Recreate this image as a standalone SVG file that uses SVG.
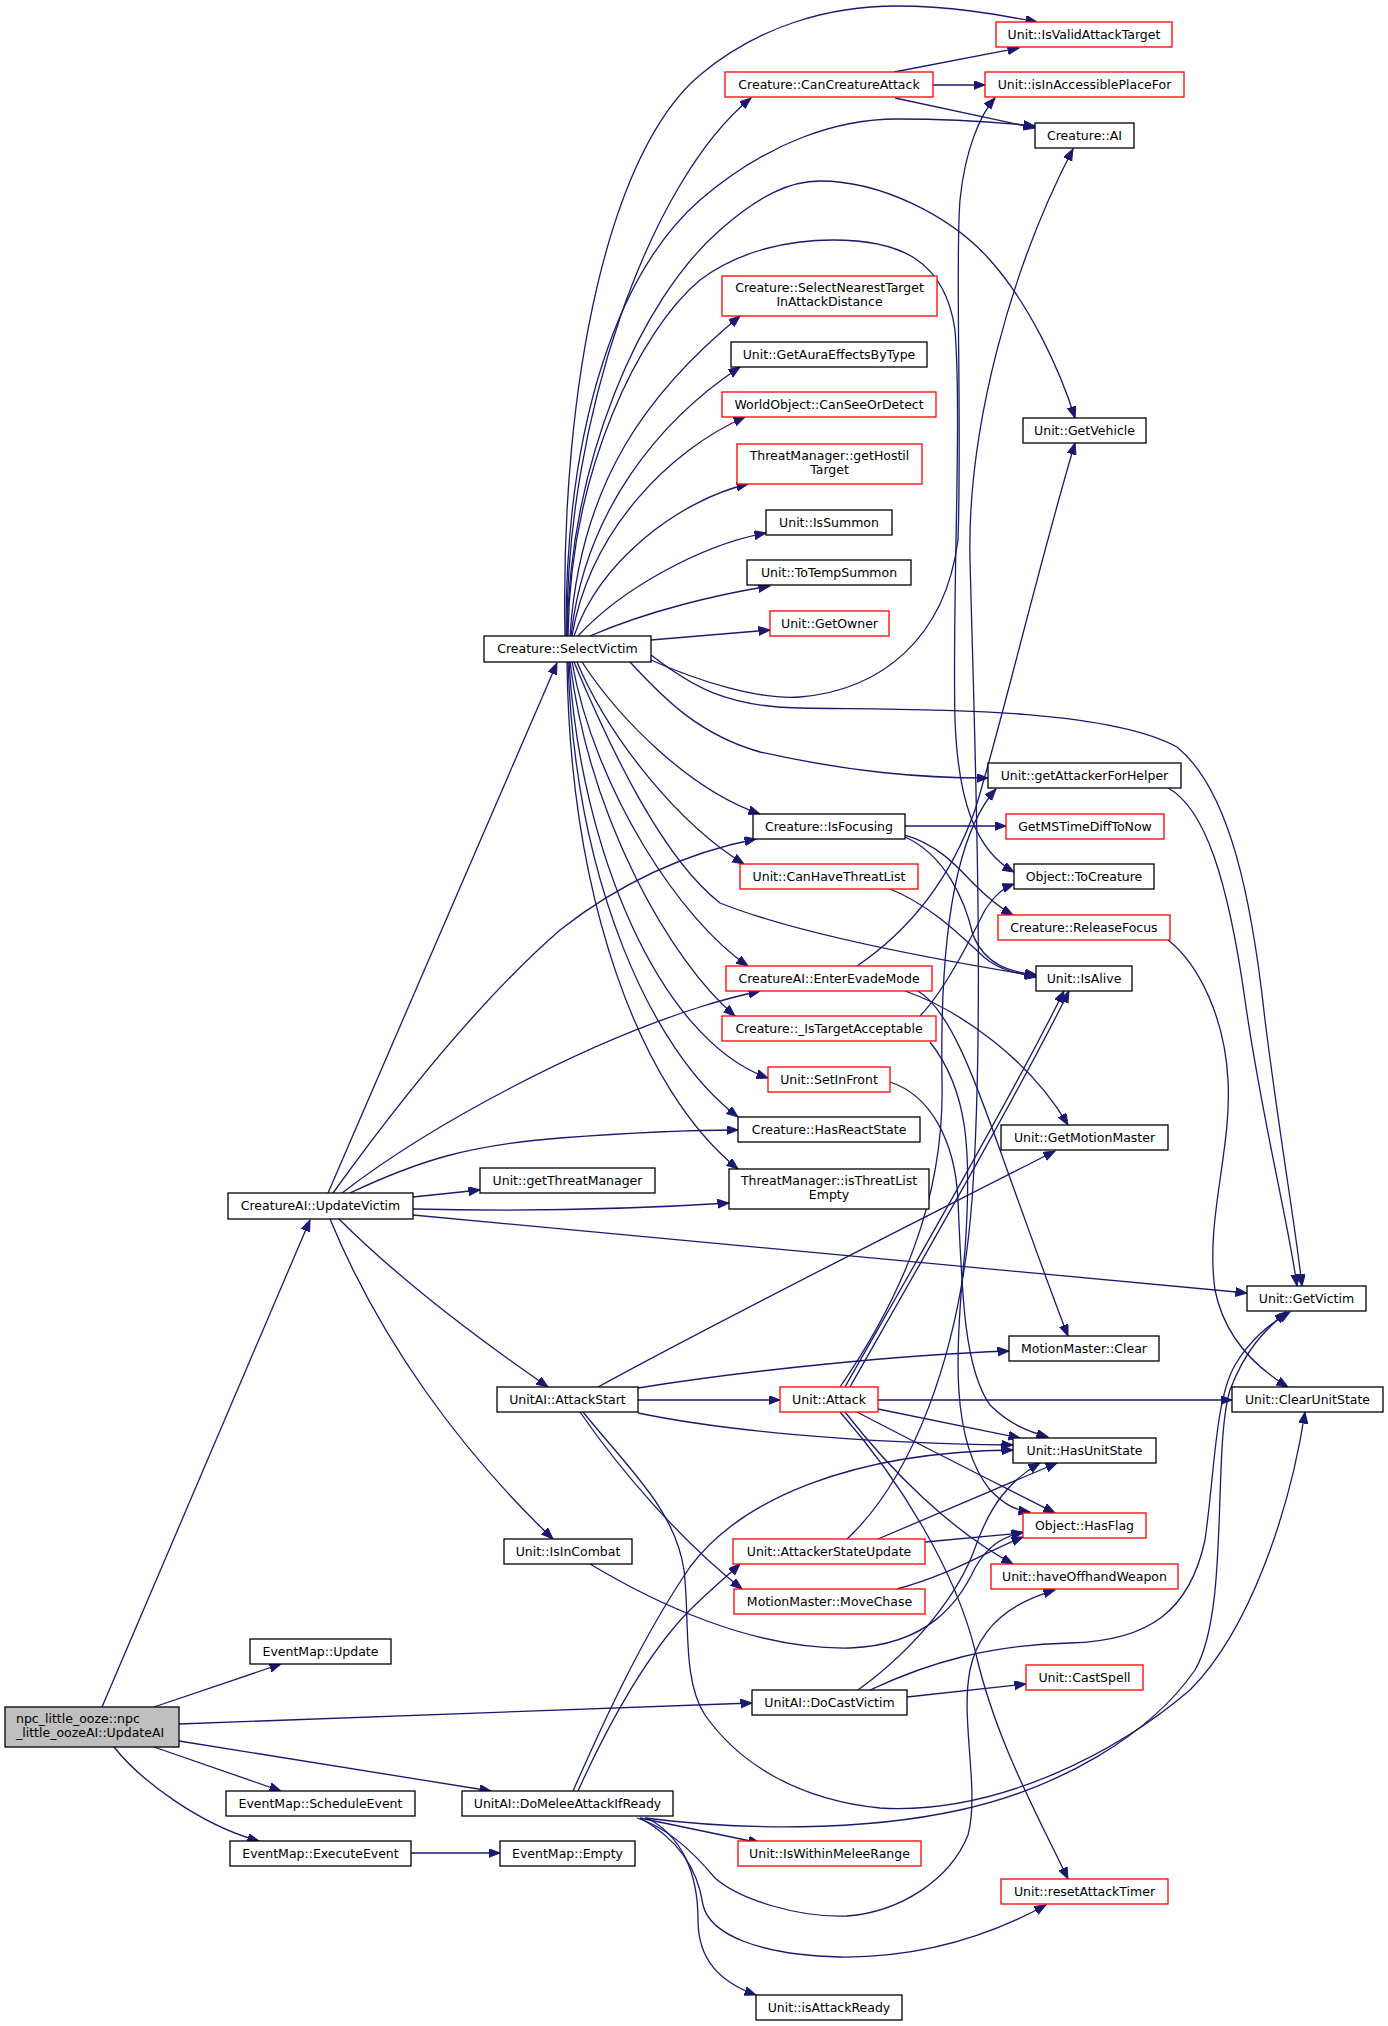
<svg xmlns="http://www.w3.org/2000/svg" width="1388" height="2026" viewBox="0 0 1388 2026">
<style>
.n rect{fill:#fff;stroke:#000;stroke-width:1.3}
.n.r rect{stroke:#f00}
.n.g rect{fill:#bfbfbf}
text{font-family:"DejaVu Sans",sans-serif;font-size:12.5px;text-anchor:middle;fill:#000}
text.l{text-anchor:start}
.e path{fill:none;stroke:#191970;stroke-width:1.3;marker-end:url(#a)}
</style>
<defs>
<marker id="a" markerUnits="userSpaceOnUse" markerWidth="13" markerHeight="10" refX="11.5" refY="4.5" orient="auto"><path d="M0,0 L11.5,4.5 L0,9 z" fill="#191970" stroke="#191970" stroke-width="1"/></marker>
</defs>
<rect width="1388" height="2026" fill="#fff"/>
<g id="edges" class="e">
<!-- UpdateAI -->
<path d="M102,1707 L310,1220"/>
<path d="M154,1707 L281,1664"/>
<path d="M179,1724 L752,1703"/>
<path d="M154,1747 L281,1791"/>
<path d="M179,1741 L491,1791"/>
<path d="M114,1747 C140,1780 200,1825 259,1841"/>
<path d="M411,1853 L500,1853"/>
<!-- UpdateVictim -->
<path d="M328,1193 L557,663"/>
<path d="M333,1193 C400,1100 480,1000 560,930 C630,875 700,850 756,839"/>
<path d="M342,1193 C430,1125 580,1045 700,1007 C725,999 742,995 760,991"/>
<path d="M350,1193 C420,1160 470,1145 560,1138 C640,1132 700,1130 738,1130"/>
<path d="M413,1197 L480,1190"/>
<path d="M413,1209 C500,1211 620,1210 729,1203"/>
<path d="M413,1215 L1247,1293"/>
<path d="M339,1219 C400,1280 480,1340 548,1387"/>
<path d="M330,1219 C380,1340 460,1450 553,1539"/>
<!-- SelectVictim up -->
<path d="M565,636 C560,380 610,150 700,75 C760,25 830,6 897,6 C950,6 995,14 1037,22"/>
<path d="M567,636 C565,420 650,180 751,98"/>
<path d="M566,636 C565,420 620,270 700,200 C770,140 840,119 897,119 C950,119 995,122 1035,126"/>
<path d="M567,636 C570,460 640,300 720,230 C760,195 790,181 820,181 C880,181 950,215 990,260 C1030,305 1060,370 1075,418"/>
<path d="M568,636 C570,470 640,330 700,280 C740,250 790,240 833,240 C900,240 945,260 955,330 C962,420 952,600 955,720 C958,800 975,850 1014,872"/>
<path d="M570,636 C580,480 650,390 740,316"/>
<path d="M571,636 C585,510 660,420 740,367"/>
<path d="M572,636 C590,530 670,450 745,417"/>
<path d="M574,636 C600,560 680,500 748,484"/>
<path d="M578,636 C620,590 700,545 766,533"/>
<path d="M590,636 C650,610 720,594 770,586"/>
<path d="M651,640 L770,630"/>
<path d="M651,660 C700,682 760,700 800,697 C880,690 945,640 958,540 C962,420 955,260 960,200 C965,150 980,115 995,98"/>
<path d="M651,655 C690,685 725,707 800,708 C900,710 1100,705 1177,747 C1230,790 1252,900 1265,1020 C1280,1140 1296,1230 1302,1286"/>
<!-- SelectVictim down -->
<path d="M630,662 C665,700 700,735 760,752 C850,772 920,778 988,778"/>
<path d="M582,662 C620,720 690,790 760,814"/>
<path d="M577,662 C610,740 680,825 744,864"/>
<path d="M574,662 C615,760 665,860 720,903 C800,935 950,962 1036,976"/>
<path d="M572,662 C595,790 680,920 748,966"/>
<path d="M570,662 C590,820 670,960 735,1016"/>
<path d="M569,662 C580,850 660,1040 768,1078"/>
<path d="M568,662 C575,880 650,1050 738,1117"/>
<path d="M567,662 C570,900 640,1090 738,1169"/>
<!-- rank3 to rank4 -->
<path d="M894,72 L1019,48"/>
<path d="M933,85 L985,85"/>
<path d="M895,98 L1035,128"/>
<path d="M905,826 L1006,826"/>
<path d="M905,835 C940,845 960,870 975,885 C990,900 1000,908 1013,915"/>
<path d="M905,837 C945,855 965,900 973,935 C985,965 1010,972 1037,975"/>
<path d="M890,889 C930,905 960,935 985,958 C1000,970 1015,973 1037,977"/>
<path d="M857,966 C910,930 950,880 975,810 C1000,730 1040,560 1075,443"/>
<path d="M905,991 C960,1010 1030,1060 1068,1125"/>
<path d="M918,991 C950,1010 975,1080 1000,1150 C1025,1220 1050,1290 1068,1336"/>
<path d="M920,1016 C945,990 970,940 985,910 C995,895 1003,888 1014,884"/>
<path d="M930,1042 C968,1090 972,1150 965,1250 C955,1350 950,1440 990,1490 C1005,1505 1015,1510 1030,1512"/>
<path d="M890,1082 C930,1095 955,1140 958,1200 C962,1300 965,1370 990,1405 C1010,1425 1030,1432 1048,1437"/>
<path d="M1168,788 C1205,808 1228,880 1245,1000 C1262,1120 1288,1220 1297,1286"/>
<path d="M1168,940 C1200,965 1225,1020 1228,1080 C1232,1150 1205,1220 1215,1290 C1225,1340 1260,1370 1288,1387"/>
<!-- AttackStart -->
<path d="M598,1387 C720,1320 900,1230 1055,1151"/>
<path d="M638,1388 C750,1370 900,1355 1009,1351"/>
<path d="M638,1400 L780,1400"/>
<path d="M638,1413 C720,1430 850,1443 1013,1445"/>
<path d="M580,1412 C620,1470 680,1540 742,1589"/>
<path d="M583,1412 C630,1470 675,1510 684,1570 C690,1620 682,1680 705,1715 C740,1765 800,1800 880,1808 C1000,1815 1120,1750 1190,1690 C1250,1630 1290,1510 1305,1412"/>
<!-- Unit::Attack -->
<path d="M878,1400 L1232,1400"/>
<path d="M878,1409 L1020,1438"/>
<path d="M857,1412 C920,1445 990,1480 1055,1513"/>
<path d="M845,1412 C890,1470 950,1530 1013,1564"/>
<path d="M840,1412 C900,1480 955,1570 975,1650 C995,1740 1040,1820 1068,1879"/>
<path d="M845,1387 C900,1290 1010,1100 1064,991"/>
<path d="M850,1387 C905,1290 1015,1100 1069,991"/>
<path d="M840,1387 C900,1300 945,1200 942,1080 C940,960 950,840 996,789"/>
<!-- AttackerStateUpdate -->
<path d="M847,1539 C910,1480 960,1360 972,1200 C985,1020 975,750 970,560 C967,430 1010,270 1073,149"/>
<path d="M925,1542 L1023,1533"/>
<path d="M878,1539 L1057,1463"/>
<!-- MoveChase, IsInCombat -->
<path d="M897,1589 C950,1575 990,1550 1023,1537"/>
<path d="M590,1564 C650,1600 750,1650 850,1648 C930,1645 960,1600 975,1568 C988,1545 1003,1537 1023,1532"/>
<!-- DoCastVictim -->
<path d="M907,1697 L1026,1684"/>
<path d="M858,1690 C920,1645 960,1590 975,1548 C990,1505 1010,1480 1040,1463"/>
<path d="M870,1690 C930,1662 990,1645 1070,1643 C1150,1641 1190,1610 1205,1540 C1215,1470 1215,1400 1235,1365 C1250,1340 1268,1325 1290,1312"/>
<!-- DoMeleeAttackIfReady -->
<path d="M573,1791 C600,1730 640,1640 690,1567 C740,1500 850,1452 1013,1450"/>
<path d="M578,1791 C610,1720 650,1650 690,1610 C710,1590 725,1578 740,1564"/>
<path d="M640,1818 L760,1843"/>
<path d="M637,1818 C670,1828 700,1860 715,1878 C740,1900 800,1918 847,1916 C900,1912 950,1880 968,1835 C980,1790 960,1720 970,1670 C980,1620 1020,1600 1055,1590"/>
<path d="M640,1818 C680,1840 698,1870 703,1905 C710,1935 760,1955 840,1957 C930,1958 1000,1930 1046,1905"/>
<path d="M647,1818 C680,1835 698,1870 698,1920 C698,1960 720,1982 756,1995"/>
<path d="M645,1818 C740,1830 860,1832 960,1810 C1060,1788 1150,1735 1195,1670 C1230,1610 1212,1450 1230,1390 C1245,1350 1265,1330 1286,1312"/>
</g>
<g id="n_isvalid" class="n r"><rect x="996" y="22" width="176" height="25"/><text x="1084" y="38.5">Unit::IsValidAttackTarget</text></g>
<g id="n_cancreature" class="n r"><rect x="725" y="72" width="208" height="25"/><text x="829" y="88.5">Creature::CanCreatureAttack</text></g>
<g id="n_isinaccessible" class="n r"><rect x="985" y="72" width="199" height="25"/><text x="1084.5" y="88.5">Unit::isInAccessiblePlaceFor</text></g>
<g id="n_ai" class="n"><rect x="1035" y="123" width="99" height="25"/><text x="1084.5" y="139.5">Creature::AI</text></g>
<g id="n_selectnearest" class="n r"><rect x="722" y="276" width="215" height="40"/><text x="829.5" y="291.5">Creature::SelectNearestTarget</text><text x="829.5" y="305.5">InAttackDistance</text></g>
<g id="n_getaura" class="n"><rect x="731" y="342" width="196" height="25"/><text x="829" y="358.5">Unit::GetAuraEffectsByType</text></g>
<g id="n_canseeordetect" class="n r"><rect x="722" y="392" width="214" height="25"/><text x="829" y="408.5">WorldObject::CanSeeOrDetect</text></g>
<g id="n_gethostil" class="n r"><rect x="737" y="444" width="185" height="40"/><text x="829.5" y="459.5">ThreatManager::getHostil</text><text x="829.5" y="473.5">Target</text></g>
<g id="n_getvehicle" class="n"><rect x="1023" y="418" width="123" height="25"/><text x="1084.5" y="434.5">Unit::GetVehicle</text></g>
<g id="n_issummon" class="n"><rect x="766" y="510" width="126" height="25"/><text x="829" y="526.5">Unit::IsSummon</text></g>
<g id="n_totempsummon" class="n"><rect x="747" y="560" width="164" height="25"/><text x="829" y="576.5">Unit::ToTempSummon</text></g>
<g id="n_getowner" class="n r"><rect x="770" y="611" width="119" height="25"/><text x="829.5" y="627.5">Unit::GetOwner</text></g>
<g id="n_selectvictim" class="n"><rect x="484" y="636" width="167" height="26"/><text x="567.5" y="653">Creature::SelectVictim</text></g>
<g id="n_getattackerforhelper" class="n"><rect x="988" y="763" width="193" height="25"/><text x="1084.5" y="779.5">Unit::getAttackerForHelper</text></g>
<g id="n_isfocusing" class="n"><rect x="753" y="814" width="152" height="25"/><text x="829" y="830.5">Creature::IsFocusing</text></g>
<g id="n_getmstime" class="n r"><rect x="1006" y="814" width="158" height="25"/><text x="1085" y="830.5">GetMSTimeDiffToNow</text></g>
<g id="n_canhavethreatlist" class="n r"><rect x="740" y="864" width="178" height="25"/><text x="829" y="880.5">Unit::CanHaveThreatList</text></g>
<g id="n_tocreature" class="n"><rect x="1014" y="864" width="140" height="25"/><text x="1084" y="880.5">Object::ToCreature</text></g>
<g id="n_releasefocus" class="n r"><rect x="998" y="915" width="172" height="25"/><text x="1084" y="931.5">Creature::ReleaseFocus</text></g>
<g id="n_isalive" class="n"><rect x="1036" y="966" width="96" height="25"/><text x="1084" y="982.5">Unit::IsAlive</text></g>
<g id="n_enterevademode" class="n r"><rect x="726" y="966" width="206" height="25"/><text x="829" y="982.5">CreatureAI::EnterEvadeMode</text></g>
<g id="n_istargetacceptable" class="n r"><rect x="722" y="1016" width="214" height="25"/><text x="829" y="1032.5">Creature::_IsTargetAcceptable</text></g>
<g id="n_setinfront" class="n r"><rect x="768" y="1067" width="122" height="25"/><text x="829" y="1083.5">Unit::SetInFront</text></g>
<g id="n_hasreactstate" class="n"><rect x="738" y="1117" width="182" height="25"/><text x="829" y="1133.5">Creature::HasReactState</text></g>
<g id="n_isthreatlistempty" class="n"><rect x="729" y="1169" width="200" height="40"/><text x="829" y="1184.5">ThreatManager::isThreatList</text><text x="829" y="1198.5">Empty</text></g>
<g id="n_getmotionmaster" class="n"><rect x="1001" y="1125" width="167" height="25"/><text x="1084.5" y="1141.5">Unit::GetMotionMaster</text></g>
<g id="n_getthreatmanager" class="n"><rect x="480" y="1168" width="175" height="25"/><text x="567.5" y="1184.5">Unit::getThreatManager</text></g>
<g id="n_updatevictim" class="n"><rect x="228" y="1193" width="185" height="26"/><text x="320.5" y="1210">CreatureAI::UpdateVictim</text></g>
<g id="n_getvictim" class="n"><rect x="1247" y="1286" width="119" height="25"/><text x="1306.5" y="1302.5">Unit::GetVictim</text></g>
<g id="n_mmclear" class="n"><rect x="1009" y="1336" width="150" height="25"/><text x="1084" y="1352.5">MotionMaster::Clear</text></g>
<g id="n_attackstart" class="n"><rect x="497" y="1387" width="141" height="25"/><text x="567.5" y="1403.5">UnitAI::AttackStart</text></g>
<g id="n_attack" class="n r"><rect x="780" y="1387" width="98" height="25"/><text x="829" y="1403.5">Unit::Attack</text></g>
<g id="n_clearunitstate" class="n"><rect x="1232" y="1387" width="151" height="25"/><text x="1307.5" y="1403.5">Unit::ClearUnitState</text></g>
<g id="n_hasunitstate" class="n"><rect x="1013" y="1438" width="143" height="25"/><text x="1084.5" y="1454.5">Unit::HasUnitState</text></g>
<g id="n_hasflag" class="n r"><rect x="1023" y="1513" width="123" height="25"/><text x="1084.5" y="1529.5">Object::HasFlag</text></g>
<g id="n_isincombat" class="n"><rect x="504" y="1539" width="128" height="25"/><text x="568" y="1555.5">Unit::IsInCombat</text></g>
<g id="n_attackerstateupdate" class="n r"><rect x="733" y="1539" width="192" height="25"/><text x="829" y="1555.5">Unit::AttackerStateUpdate</text></g>
<g id="n_haveoffhand" class="n r"><rect x="991" y="1564" width="187" height="25"/><text x="1084.5" y="1580.5">Unit::haveOffhandWeapon</text></g>
<g id="n_movechase" class="n r"><rect x="734" y="1589" width="191" height="25"/><text x="829.5" y="1605.5">MotionMaster::MoveChase</text></g>
<g id="n_emupdate" class="n"><rect x="250" y="1639" width="141" height="25"/><text x="320.5" y="1655.5">EventMap::Update</text></g>
<g id="n_castspell" class="n r"><rect x="1026" y="1665" width="117" height="25"/><text x="1084.5" y="1681.5">Unit::CastSpell</text></g>
<g id="n_updateai" class="n g"><rect x="5" y="1707" width="174" height="40"/><text class="l" x="16" y="1722.5">npc_little_ooze::npc</text><text class="l" x="16" y="1736.5">_little_oozeAI::UpdateAI</text></g>
<g id="n_docastvictim" class="n"><rect x="752" y="1690" width="155" height="25"/><text x="829.5" y="1706.5">UnitAI::DoCastVictim</text></g>
<g id="n_scheduleevent" class="n"><rect x="226" y="1791" width="189" height="25"/><text x="320.5" y="1807.5">EventMap::ScheduleEvent</text></g>
<g id="n_domelee" class="n"><rect x="462" y="1791" width="211" height="25"/><text x="567.5" y="1807.5">UnitAI::DoMeleeAttackIfReady</text></g>
<g id="n_executeevent" class="n"><rect x="230" y="1841" width="181" height="25"/><text x="320.5" y="1857.5">EventMap::ExecuteEvent</text></g>
<g id="n_empty" class="n"><rect x="500" y="1841" width="135" height="25"/><text x="567.5" y="1857.5">EventMap::Empty</text></g>
<g id="n_iswithinmelee" class="n r"><rect x="738" y="1841" width="183" height="25"/><text x="829.5" y="1857.5">Unit::IsWithinMeleeRange</text></g>
<g id="n_resetattacktimer" class="n r"><rect x="1001" y="1879" width="167" height="25"/><text x="1084.5" y="1895.5">Unit::resetAttackTimer</text></g>
<g id="n_isattackready" class="n"><rect x="756" y="1995" width="146" height="25"/><text x="829" y="2011.5">Unit::isAttackReady</text></g>
</svg>
